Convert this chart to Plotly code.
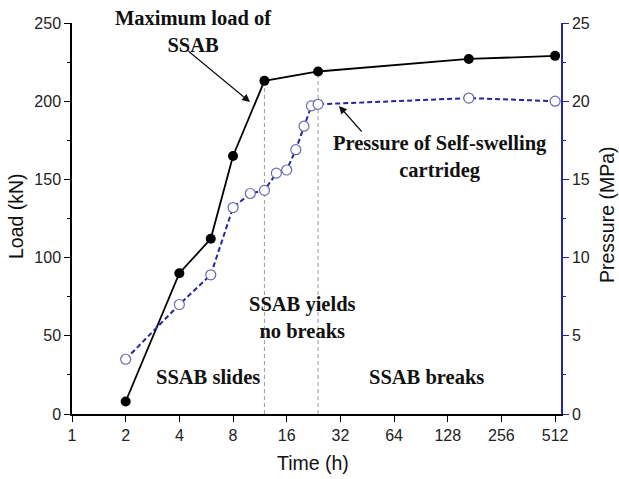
import plotly.graph_objects as go
import math

# ---------------- data ----------------
time_load = [2, 4, 6, 8, 12, 24, 168, 512]
load_kN = [8, 90, 112, 165, 213, 219, 227, 229]

time_pressure = [2, 4, 6, 8, 10, 12, 14, 16, 18, 20, 22, 24, 168, 512]
pressure_MPa = [3.5, 7.0, 8.9, 13.2, 14.1, 14.3, 15.4, 15.6, 16.9, 18.4, 19.7, 19.8, 20.2, 20.0]

x_tick_vals = [1, 2, 4, 8, 16, 32, 64, 128, 256, 512]
x_tick_text = [str(v) for v in x_tick_vals]

stage_boundaries = [12, 24]   # time (h) where stages change

# ---------------- layout helpers ----------------
W, H = 619, 479
L, R, T, B = 72, 58, 23, 65
PW, PH = W - L - R, H - T - B


def xp(px):
    return (px - L) / PW


def yp(py):
    return (H - B - py) / PH


SERIF = "Liberation Serif"
SANS = "Liberation Sans"
BLUE = "#2424a8"

fig = go.Figure()

# vertical dashed stage lines (up to the load at that time)
for t in stage_boundaries:
    v = load_kN[time_load.index(t)]
    fig.add_trace(go.Scatter(
        x=[t, t], y=[0, v], mode="lines",
        line=dict(color="#9a9a9a", width=1, dash="4px,3px"),
        hoverinfo="skip", showlegend=False))

fig.add_trace(go.Scatter(
    x=time_load, y=load_kN, mode="lines+markers", name="Load",
    line=dict(color="black", width=1.8),
    marker=dict(symbol="circle", size=10, color="black"),
    showlegend=False))

fig.add_trace(go.Scatter(
    x=time_pressure, y=pressure_MPa, mode="lines+markers", name="Pressure",
    yaxis="y2",
    line=dict(color=BLUE, width=2, dash="5px,3px"),
    marker=dict(symbol="circle", size=10, color="white",
                line=dict(color="#6a6ab0", width=1.2)),
    showlegend=False))

tickfont = dict(family=SANS, size=16, color="#222222")
titlefont = dict(family=SANS, size=19.5, color="#111111")

fig.update_layout(
    width=W, height=H,
    margin=dict(l=L, r=R, t=T, b=B),
    paper_bgcolor="white", plot_bgcolor="white",
    xaxis=dict(
        type="log",
        range=[0, math.log10(2 ** 9.11)],
        tickvals=x_tick_vals, ticktext=x_tick_text,
        ticks="outside", ticklen=6, tickwidth=1.3, tickcolor="black",
        showline=True, linecolor="black", linewidth=1.5,
        showgrid=False, zeroline=False,
        tickfont=tickfont,
    ),
    yaxis=dict(
        range=[0, 250], dtick=50,
        ticks="outside", ticklen=6, tickwidth=1.3, tickcolor="black",
        minor=dict(dtick=25, ticks="outside", ticklen=3.5, tickwidth=1.3, tickcolor="black"),
        showline=True, linecolor="black", linewidth=1.5,
        showgrid=False, zeroline=False,
        tickfont=tickfont,
    ),
    yaxis2=dict(
        range=[0, 25], dtick=5, overlaying="y", side="right",
        ticks="outside", ticklen=6, tickwidth=1.3, tickcolor=BLUE,
        minor=dict(dtick=2.5, ticks="outside", ticklen=3.5, tickwidth=1.3, tickcolor=BLUE),
        showline=True, linecolor=BLUE, linewidth=1.5,
        showgrid=False, zeroline=False,
        tickfont=tickfont,
    ),
)

# axis titles
axis_titles = [
    ("Time (h)", 313, 463, 0),
    ("Load (kN)", 16, 216, -90),
    ("Pressure (MPa)", 607, 215, -90),
]
for txt, x0, y0, ang in axis_titles:
    fig.add_annotation(text=txt, xref="paper", yref="paper",
                       x=xp(x0), y=yp(y0), xanchor="center", yanchor="middle",
                       textangle=ang, showarrow=False, font=titlefont)

textfont = dict(family=SERIF, size=20.5, color="#111111", weight="bold")

texts = [
    ("Maximum load of<br>SSAB", 193, 31),
    ("Pressure of Self-swelling<br>cartrideg", 440, 157),
    ("SSAB slides", 208, 377),
    ("SSAB yields<br>no breaks", 302, 317),
    ("SSAB breaks", 426, 377),
]
for txt, x0, y0 in texts:
    fig.add_annotation(text=txt, xref="paper", yref="paper",
                       x=xp(x0), y=yp(y0), xanchor="center", yanchor="middle",
                       showarrow=False, font=textfont, align="center")

arrows = [
    ((250, 102), (187, 50)),
    ((339, 106), (363, 133)),
]
for (tx, ty), (sx, sy) in arrows:
    fig.add_annotation(text="", xref="paper", yref="paper",
                       x=xp(tx), y=yp(ty), ax=sx - tx, ay=sy - ty,
                       showarrow=True, arrowhead=2, arrowsize=1.3,
                       arrowwidth=1.2, arrowcolor="#111111")

fig.write_html("out.html",
               config={"displayModeBar": False},
               post_script="document.body.style.margin='0';document.body.style.overflow='hidden';")
